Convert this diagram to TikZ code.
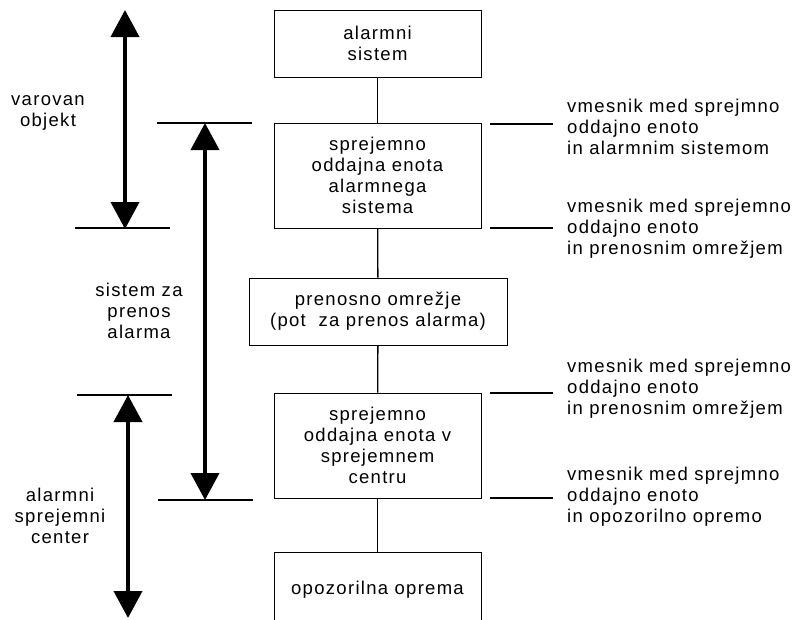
\documentclass[tikz,border=0pt]{standalone}
\usepackage{fontspec}
\setmainfont{Liberation Sans}[LetterSpace=7]
\usepackage{tikz}
\usetikzlibrary{arrows.meta,positioning}

\tikzset{
  blok/.style={draw, line width=1pt, minimum width=207pt, align=center, inner sep=0pt},
  txt/.style={align=center, inner sep=0pt},
  opis/.style={align=left, anchor=west, inner sep=0pt},
  debela/.style={line width=4pt, {Triangle[length=27pt,width=28pt]}-{Triangle[length=27pt,width=28pt]}},
  tanka/.style={line width=1.3pt}
}

\begin{document}
\begin{tikzpicture}[x=1pt, y=-1pt, font=\fontsize{18.5}{21}\selectfont]
    \useasboundingbox (0,0) rectangle (799,619);

    % srednji stolpec
    \node[blok, minimum height=67pt] (alsis) at (377.5,43.5) {alarmni\\sistem};
    \node[blok, minimum height=105pt] (soalsis) at (377.5,175.5) {sprejemno\\oddajna enota\\alarmnega\\sistema};
    \node[blok, minimum width=258pt, minimum height=67pt] (omr) at (378,311.5) {prenosno omrežje\\(pot~ za prenos alarma)};
    \node[blok, minimum height=105pt] (socen) at (377.5,445.5) {sprejemno\\oddajna enota v\\sprejemnem\\centru};
    \node[blok, minimum height=76pt] (opr) at (377.5,590) {opozorilna oprema};

    \draw[tanka] (alsis) -- (soalsis);
    \draw[tanka] (soalsis) -- (omr);
    \draw[tanka] (omr) -- (socen);
    \draw[tanka] (socen) -- (opr);

    % vmesniki desno
    \foreach \y/\ime in {124/v1, 228/v2, 393/v3, 498/v4} {
      \coordinate (\ime a) at (490,\y);
      \coordinate (\ime b) at (553,\y);
      \draw[tanka] (\ime a) -- (\ime b);
    }
    \node[opis] (t1) at (567,127) {vmesnik med sprejmno\\oddajno enoto\\in alarmnim sistemom};
    \node[opis] (t2) at (567,229) {vmesnik med sprejemno\\oddajno enoto\\in prenosnim omrežjem};
    \node[opis] (t3) at (567,389) {vmesnik med sprejemno\\oddajno enoto\\in prenosnim omrežjem};
    \node[opis] (t4) at (567,497) {vmesnik med sprejmno\\oddajno enoto\\in opozorilno opremo};

    % puscice levo
    \coordinate (vo1) at (125,10);
    \coordinate (vo2) at (125,229);
    \draw[debela] (vo1) -- (vo2);
    \coordinate (c1a) at (75,228);
    \coordinate (c1b) at (170,228);
    \draw[tanka] (c1a) -- (c1b);
    \node[txt] (varobj) at (48,113) {varovan\\objekt};

    \coordinate (sp1) at (205,123);
    \coordinate (sp2) at (205,500);
    \draw[debela] (sp1) -- (sp2);
    \coordinate (c2a) at (157,123);
    \coordinate (c2b) at (252,123);
    \draw[tanka] (c2a) -- (c2b);
    \coordinate (c3a) at (158,500);
    \coordinate (c3b) at (253,500);
    \draw[tanka] (c3a) -- (c3b);
    \node[txt] (sisprenos) at (139,311) {sistem za\\prenos\\alarma};

    \coordinate (asc1) at (128,395);
    \coordinate (asc2) at (128,618);
    \draw[debela] (asc1) -- (asc2);
    \coordinate (c4a) at (77,395);
    \coordinate (c4b) at (172,395);
    \draw[tanka] (c4a) -- (c4b);
    \node[txt] (alcen) at (60,516) {alarmni\\sprejemni\\center};

    % \draw[help lines, step=50] (0,0) grid (799,619);
\end{tikzpicture}
\end{document}
